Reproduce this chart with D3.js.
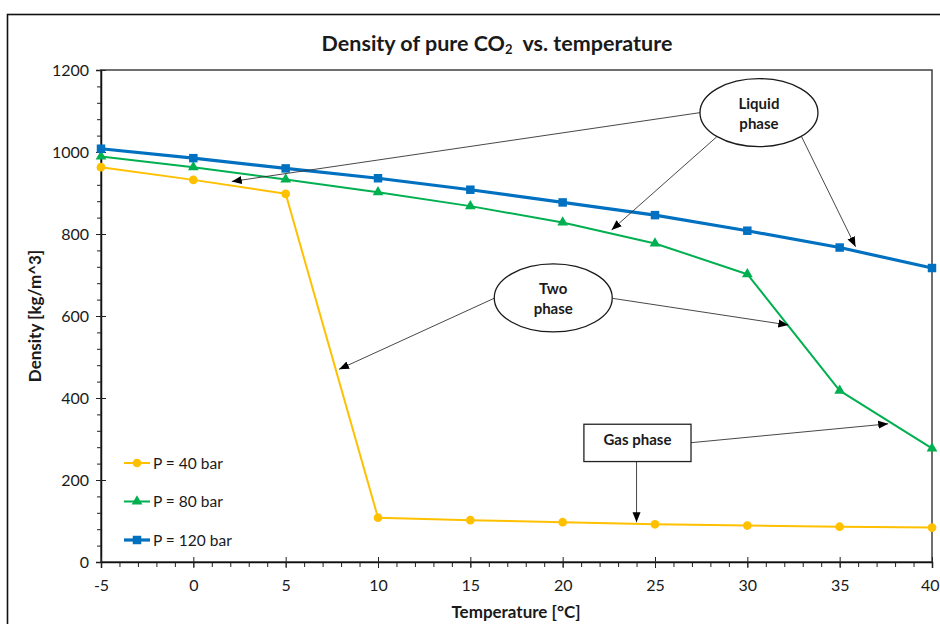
<!DOCTYPE html>
<html>
<head>
<meta charset="utf-8">
<script src="https://cdn.jsdelivr.net/npm/d3@7/dist/d3.min.js"></script>
<style>
  html, body { margin: 0; padding: 0; background: #fff; }
  svg { display: block; }
  text { font-family: Lato, "Open Sans", sans-serif; fill: #1a1a1a; }
</style>
</head>
<body>
<svg id="chart" width="940" height="624"></svg>
<script>
// Temperatures in °C
const temperatures = [-5, 0, 5, 10, 15, 20, 25, 30, 35, 40];
// Density of CO2 in kg/m^3 at each pressure
const density40bar  = [963, 932, 898, 108, 102, 97, 92, 89, 86, 84];
const density80bar  = [989, 963, 933, 902, 868, 828, 777, 702, 418, 277];
const density120bar = [1008, 985, 960, 936, 908, 877, 846, 808, 767, 717];
const seriesNames = ["P = 40 bar", "P = 80 bar", "P = 120 bar"];
const xTicks = [-5, 0, 5, 10, 15, 20, 25, 30, 35, 40];
const yTicks = [0, 200, 400, 600, 800, 1000, 1200];

// Callout labels, anchored in data units (°C, kg/m^3)
const ellipseNotes = [
  { lines: ["Liquid", "phase"], t: 30.63, d: 1096,
    arrows: [[27.44, 1096, 2.08, 928], [28.34, 1037, 22.65, 810], [32.94, 1037, 35.86, 769]] },
  { lines: ["Two", "phase"], t: 19.49, d: 644,
    arrows: [[16.28, 643, 7.89, 470], [22.71, 643, 32.22, 578]] }
];
const boxNotes = [
  { text: "Gas phase", t0: 21.15, t1: 26.95, d0: 336, d1: 245,
    arrows: [[26.95, 291, 37.63, 337], [24.0, 245, 24.0, 97]] }
];

const series = [
  { name: seriesNames[0], values: density40bar,  color: "#FFC000", width: 2,   symbol: d3.symbolCircle,   size: 60 },
  { name: seriesNames[1], values: density80bar,  color: "#00B050", width: 2,   symbol: d3.symbolTriangle, size: 50 },
  { name: seriesNames[2], values: density120bar, color: "#0070C0", width: 3.2, symbol: d3.symbolSquare,   size: 72 }
];

const svg = d3.select("#chart");
const plot = { left: 101, right: 932, top: 70, bottom: 562 };

const x = d3.scaleLinear().domain([-5, 40]).range([plot.left, plot.right]);
const y = d3.scaleLinear().domain([0, 1200]).range([plot.bottom, plot.top]);
const plain = d => String(d);

// Outer chart frame
svg.append("rect")
  .attr("x", 7.5).attr("y", 14.5).attr("width", 960).attr("height", 640)
  .attr("fill", "none").attr("stroke", "#111").attr("stroke-width", 1.6);

// Plot area frame
svg.append("rect")
  .attr("x", plot.left).attr("y", plot.top)
  .attr("width", plot.right - plot.left).attr("height", plot.bottom - plot.top)
  .attr("fill", "none").attr("stroke", "#404040").attr("stroke-width", 1.5);

// Title
const title = svg.append("text")
  .attr("x", 497).attr("y", 51)
  .attr("text-anchor", "middle")
  .attr("font-size", 21.5).attr("font-weight", "bold");
title.append("tspan").text("Density of pure CO");
title.append("tspan").text("2").attr("font-size", 13).attr("dy", 3);
title.append("tspan").text("\u00a0 vs. temperature").attr("dy", -3);

// Axes: minor ticks first, then major ticks and labels
const yMinor = d3.axisLeft(y).tickValues(d3.range(0, 1201, 40)).tickSize(4).tickFormat("");
svg.append("g").attr("transform", `translate(${plot.left},0)`).call(yMinor)
  .call(g => g.select(".domain").remove())
  .call(g => g.selectAll("line").attr("stroke", "#222"));

const yAxis = d3.axisLeft(y).tickValues(yTicks).tickFormat(plain).tickSize(5).tickPadding(8);
svg.append("g").attr("transform", `translate(${plot.left},0)`).call(yAxis)
  .call(g => g.select(".domain").attr("stroke", "#111").attr("stroke-width", 1.5))
  .call(g => g.selectAll(".tick line").attr("x2", 5).attr("x1", -5).attr("stroke", "#222"))
  .call(g => g.selectAll("text").attr("font-size", 16).attr("fill", "#262626")
    .attr("font-family", "Lato, 'Open Sans', sans-serif").attr("x", -12));

const xMinor = d3.axisBottom(x).tickValues(d3.range(-5, 41, 1)).tickSize(5).tickFormat("");
svg.append("g").attr("transform", `translate(0,${plot.bottom})`).call(xMinor)
  .call(g => g.select(".domain").remove())
  .call(g => g.selectAll("line").attr("stroke", "#222"));

const xAxis = d3.axisBottom(x).tickValues(xTicks).tickFormat(plain).tickSize(6).tickPadding(12);
svg.append("g").attr("transform", `translate(0,${plot.bottom})`).call(xAxis)
  .call(g => g.select(".domain").attr("stroke", "#111").attr("stroke-width", 1.5))
  .call(g => g.selectAll(".tick line").attr("y1", -5).attr("y2", 6).attr("stroke", "#222"))
  .call(g => g.selectAll("text").attr("font-size", 16).attr("fill", "#262626")
    .attr("font-family", "Lato, 'Open Sans', sans-serif"))
  // keep the last label inside the page edge
  .call(g => g.selectAll(".tick text").filter(d => d === 40)
    .attr("text-anchor", "end").attr("x", 939 - plot.right));

// Axis titles
svg.append("text")
  .attr("transform", `translate(41,${(plot.top + plot.bottom) / 2}) rotate(-90)`)
  .attr("text-anchor", "middle").attr("font-size", 17).attr("font-weight", "bold")
  .text("Density [kg/m^3]");
svg.append("text")
  .attr("x", 516).attr("y", 618)
  .attr("text-anchor", "middle").attr("font-size", 17).attr("font-weight", "bold")
  .text("Temperature [°C]");

// Series lines and markers
const line = d3.line().x((d, i) => x(temperatures[i])).y(d => y(d));
series.forEach(s => {
  svg.append("path")
    .datum(s.values)
    .attr("d", line)
    .attr("fill", "none").attr("stroke", s.color).attr("stroke-width", s.width)
    .attr("stroke-linejoin", "round");
  svg.append("g").selectAll("path")
    .data(s.values)
    .join("path")
    .attr("transform", (d, i) => `translate(${x(temperatures[i])},${y(d)})`)
    .attr("d", d3.symbol().type(s.symbol).size(s.size))
    .attr("fill", s.color);
});

// Arrow head
svg.append("defs").append("marker")
  .attr("id", "arrow").attr("viewBox", "0 0 10 10")
  .attr("refX", 10).attr("refY", 5)
  .attr("markerWidth", 10).attr("markerHeight", 10)
  .attr("markerUnits", "userSpaceOnUse")
  .attr("orient", "auto")
  .append("path").attr("d", "M0,1 L10,5 L0,9 Z").attr("fill", "#000");

function drawArrow(a) {
  svg.append("line")
    .attr("x1", x(a[0])).attr("y1", y(a[1]))
    .attr("x2", x(a[2])).attr("y2", y(a[3]))
    .attr("stroke", "#333").attr("stroke-width", 0.9)
    .attr("marker-end", "url(#arrow)");
}

ellipseNotes.forEach(n => {
  n.arrows.forEach(drawArrow);
  svg.append("ellipse")
    .attr("cx", x(n.t)).attr("cy", y(n.d)).attr("rx", 59).attr("ry", 34)
    .attr("fill", "#fff").attr("stroke", "#1a1a1a").attr("stroke-width", 1.3);
  n.lines.forEach((l, i) => {
    svg.append("text")
      .attr("x", x(n.t)).attr("y", y(n.d) - 4 + i * 20)
      .attr("text-anchor", "middle").attr("font-size", 15).attr("font-weight", "bold")
      .text(l);
  });
});

boxNotes.forEach(n => {
  n.arrows.forEach(drawArrow);
  svg.append("rect")
    .attr("x", x(n.t0)).attr("y", y(n.d0))
    .attr("width", x(n.t1) - x(n.t0)).attr("height", y(n.d1) - y(n.d0))
    .attr("fill", "#fff").attr("stroke", "#222").attr("stroke-width", 1.3);
  svg.append("text")
    .attr("x", (x(n.t0) + x(n.t1)) / 2).attr("y", (y(n.d0) + y(n.d1)) / 2 + 2)
    .attr("text-anchor", "middle").attr("font-size", 15).attr("font-weight", "bold")
    .text(n.text);
});

// Legend
const legend = svg.append("g").attr("transform", "translate(124,463)");
series.forEach((s, i) => {
  const g = legend.append("g").attr("transform", `translate(0,${i * 38.5})`);
  g.append("line").attr("x1", 0).attr("x2", 26).attr("y1", 0).attr("y2", 0)
    .attr("stroke", s.color).attr("stroke-width", s.width);
  g.append("path").attr("transform", "translate(13,0)")
    .attr("d", d3.symbol().type(s.symbol).size(s.size)).attr("fill", s.color);
  g.append("text").attr("x", 29).attr("y", 5.5).attr("font-size", 15.5).text(s.name);
});
</script>
</body>
</html>
